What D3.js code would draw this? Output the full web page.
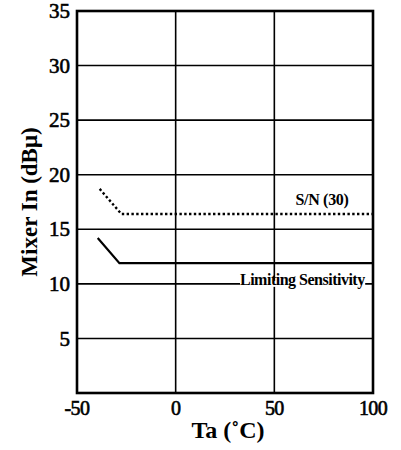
<!DOCTYPE html>
<html lang="en">
<head>
	<meta charset="utf-8">
	<title>Mixer In vs Ta</title>
	<script src="https://cdn.jsdelivr.net/npm/d3@7"></script>
	<style>
		body { margin: 0; background: #fff; }
		text { font-family: "Liberation Serif", "Times New Roman", serif; fill: #000; }
	</style>
</head>
<body>
	<script>
		// chart values
		const xTicks = [-50, 0, 50, 100];
		const yTicks = [5, 10, 15, 20, 25, 30, 35];
		const snTemps = [-38.5, -27.5, 100];
		const snValues = [18.7, 16.4, 16.4];
		const limTemps = [-39.5, -28.5, 100];
		const limValues = [14.2, 11.9, 11.9];

		const width = 401, height = 450;
		const margin = { top: 11, right: 28, bottom: 57, left: 77 };

		const svg = d3.select("body").append("svg")
			.attr("width", width)
			.attr("height", height);

		const x = d3.scaleLinear().domain([-50, 100]).range([margin.left, width - margin.right]);
		const y = d3.scaleLinear().domain([0, 35]).range([height - margin.bottom, margin.top]);

		// grid
		svg.append("g")
			.selectAll("line.h")
			.data(yTicks.filter(d => d < 35))
			.join("line")
			.attr("x1", x(-50)).attr("x2", x(100))
			.attr("y1", d => y(d)).attr("y2", d => y(d))
			.attr("stroke", "#000").attr("stroke-width", 1.6);

		svg.append("g")
			.selectAll("line.v")
			.data(xTicks.filter(d => d > -50 && d < 100))
			.join("line")
			.attr("x1", d => x(d)).attr("x2", d => x(d))
			.attr("y1", y(0)).attr("y2", y(35))
			.attr("stroke", "#000").attr("stroke-width", 1.6);

		// curves
		const line = d3.line().x(d => x(d[0])).y(d => y(d[1]));

		svg.append("path")
			.datum(d3.zip(snTemps, snValues))
			.attr("d", line)
			.attr("fill", "none")
			.attr("stroke", "#000")
			.attr("stroke-width", 2.4)
			.attr("stroke-dasharray", "2.4,2.4");

		svg.append("path")
			.datum(d3.zip(limTemps, limValues))
			.attr("d", line)
			.attr("fill", "none")
			.attr("stroke", "#000")
			.attr("stroke-width", 2.2);

		// labels on the plot
		svg.append("text")
			.attr("x", 322).attr("y", 205)
			.attr("text-anchor", "middle")
			.attr("font-size", 16)
			.attr("font-weight", "bold")
			.attr("letter-spacing", -0.3)
			.text("S/N (30)");

		const limLabel = svg.append("text")
			.attr("x", 240).attr("y", y(10) + 1)
			.attr("font-size", 16)
			.attr("font-weight", "bold")
			.attr("letter-spacing", -0.5)
			.text("Limiting Sensitivity");
		const bb = limLabel.node().getBBox();
		svg.insert("rect", "text")
			.attr("x", bb.x).attr("y", y(10) - 3)
			.attr("width", bb.width).attr("height", 6)
			.attr("fill", "#fff");

		// frame
		svg.append("rect")
			.attr("x", x(-50)).attr("y", y(35))
			.attr("width", x(100) - x(-50))
			.attr("height", y(0) - y(35))
			.attr("fill", "none")
			.attr("stroke", "#000")
			.attr("stroke-width", 2.6);

		// axes tick labels
		svg.append("g")
			.selectAll("text")
			.data(yTicks)
			.join("text")
			.attr("x", x(-50) - 7)
			.attr("y", d => y(d))
			.attr("dy", "0.34em")
			.attr("text-anchor", "end")
			.attr("font-size", 21)
			.attr("stroke", "#000")
			.attr("stroke-width", 0.6)
			.text(d => d);

		svg.append("g")
			.selectAll("text")
			.data(xTicks)
			.join("text")
			.attr("x", d => x(d))
			.attr("y", y(0) + 22)
			.attr("text-anchor", "middle")
			.attr("font-size", 20)
			.attr("letter-spacing", -0.6)
			.attr("stroke", "#000")
			.attr("stroke-width", 0.6)
			.text(d => d);

		// axis titles
		svg.append("text")
			.attr("transform", "translate(37, 202) rotate(-90)")
			.attr("text-anchor", "middle")
			.attr("font-size", 23)
			.attr("font-weight", "bold")
			.text("Mixer In (dBμ)");

		svg.append("text")
			.attr("x", 228).attr("y", 438)
			.attr("text-anchor", "middle")
			.attr("font-size", 24)
			.attr("font-weight", "bold")
			.text("Ta (˚C)");
	</script>
</body>
</html>
